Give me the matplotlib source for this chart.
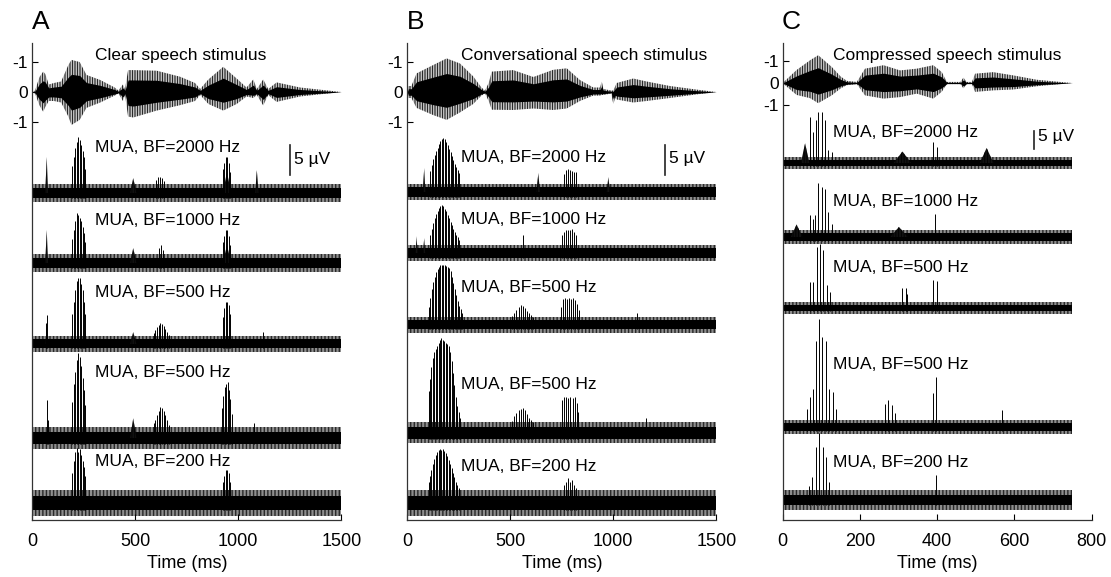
"""
Speech stimulus waveforms with MUA responses (panels A, B, C).
Envelopes / spike heights were read off the reference figure by eye.
"""
import numpy as np
import matplotlib
matplotlib.use("Agg")
import matplotlib.pyplot as plt

plt.rcParams['font.family'] = ['Liberation Sans', 'DejaVu Sans']
plt.rcParams['hatch.linewidth'] = 0.6

# ---------------- stimulus envelopes (normalised amplitude) ----------------
stim_a_t = [0, 13, 35, 53, 63, 80, 105, 140, 175, 190, 230, 263, 330, 400, 418, 440, 450,
            465, 490, 604, 717, 790, 815, 855, 927, 992, 1040, 1073, 1090, 1121, 1145, 1186,
            1300, 1461, 1500]
stim_a_up = [0, 0.05, 0.5, 0.68, 0.6, 0.25, 0.3, 0.35, 0.9, 1.07, 1.0, 0.57, 0.4, 0.15, 0.05,
             0.25, 0.1, 0.73, 0.73, 0.71, 0.51, 0.3, 0.1, 0.42, 0.84, 0.45, 0.15, 0.42, 0.1,
             0.42, 0.1, 0.32, 0.15, 0.03, 0.0]
stim_a_lo = [0, 0.05, 0.45, 0.66, 0.5, 0.3, 0.3, 0.35, 0.82, 1.1, 0.93, 0.53, 0.35, 0.12, 0.05,
             0.3, 0.1, 0.82, 0.85, 0.62, 0.44, 0.3, 0.1, 0.4, 0.62, 0.4, 0.15, 0.2, 0.1,
             0.45, 0.1, 0.33, 0.15, 0.03, 0.0]

stim_b_t = [0, 5, 20, 45, 126, 191, 256, 320, 360, 377, 395, 410, 514, 612, 708, 774, 838,
            903, 935, 944, 952, 990, 1000, 1010, 1016, 1097, 1162, 1275, 1405, 1500]
stim_b_up = [0, 0.2, 0.2, 0.62, 0.9, 1.12, 0.95, 0.52, 0.15, 0.05, 0.3, 0.68, 0.73, 0.5, 0.74,
             0.79, 0.4, 0.15, 0.15, 0.35, 0.1, 0.05, 0.05, 0.2, 0.3, 0.45, 0.35, 0.2, 0.08, 0]
stim_b_lo = [0, 0.2, 0.2, 0.53, 0.77, 0.93, 0.68, 0.4, 0.12, 0.05, 0.3, 0.59, 0.6, 0.55, 0.6,
             0.55, 0.3, 0.12, 0.12, 0.1, 0.1, 0.05, 0.4, 0.2, 0.25, 0.35, 0.3, 0.2, 0.08, 0]

stim_c_t = [0, 6, 36, 71, 92, 127, 150, 166, 192, 213, 261, 304, 347, 390, 412, 425, 460,
            468, 476, 490, 498, 545, 597, 658, 718, 750]
stim_c_up = [0, 0.1, 0.6, 1.05, 1.28, 0.74, 0.3, 0.1, 0.05, 0.66, 0.82, 0.58, 0.66, 0.82, 0.5,
             0.05, 0.05, 0.25, 0.05, 0.05, 0.43, 0.5, 0.35, 0.15, 0.05, 0]
stim_c_lo = [0, 0.1, 0.55, 0.7, 0.93, 0.57, 0.25, 0.1, 0.05, 0.57, 0.72, 0.65, 0.49, 0.72, 0.4,
             0.05, 0.05, 0.25, 0.05, 0.05, 0.41, 0.34, 0.3, 0.15, 0.05, 0]

# ---------------- MUA traces: spike times (ms) / heights (uV), bumps (t, h, width) -------------
mua_names = ["MUA, BF=2000 Hz", "MUA, BF=1000 Hz", "MUA, BF=500 Hz",
             "MUA, BF=500 Hz", "MUA, BF=200 Hz"]

# panel A - clear speech
a1_t = [195, 202, 209, 216, 223, 230, 237, 244, 251, 258, 600, 610, 620, 630, 640,
        925, 932, 939, 946, 953, 960]
a1_h = [4.5, 6, 7.5, 8.5, 9.3, 8.8, 8, 7, 6, 4, 2.2, 2.6, 2.7, 2.5, 2.0,
        4, 5, 6, 6, 5, 3.5]
a1_bumps = [(70, 6.0, 14), (490, 2.5, 30), (945, 3.5, 40), (1090, 3.8, 16)]

a2_t = [195, 202, 209, 216, 223, 230, 237, 244, 251, 258, 615, 625, 635,
        925, 932, 939, 946, 953, 960]
a2_h = [4, 5.5, 7, 8.3, 8, 7.5, 7, 6, 5, 3.5, 2.5, 3.0, 2.2,
        3.5, 4.5, 5.5, 5.5, 4.5, 3]
a2_bumps = [(70, 5.5, 14), (490, 2.5, 30), (945, 3.0, 40)]

a3_t = [65, 72, 195, 202, 209, 216, 223, 230, 237, 244, 251, 258,
        590, 598, 606, 614, 622, 630, 638, 646, 654, 662,
        925, 932, 939, 946, 953, 960, 1120]
a3_h = [3.5, 4.8, 5, 7, 9, 10.5, 11, 11, 10, 9, 7, 5,
        1.8, 2.3, 2.8, 3.2, 3.5, 3.3, 3, 2.5, 2, 1.5,
        4.5, 6, 7, 7, 6.5, 5, 2]
a3_bumps = [(70, 3.0, 12), (490, 2.0, 30)]

a4_t = [70, 78, 195, 202, 209, 216, 223, 230, 237, 244, 251, 258,
        590, 598, 606, 614, 622, 630, 638, 646, 654, 662,
        920, 927, 934, 941, 948, 955, 962, 969, 1075]
a4_h = [6.3, 3, 6, 9, 11, 13, 14.2, 13.5, 12, 10, 8, 5.5,
        2.5, 3, 3.8, 4.5, 5.2, 5, 4.5, 3.8, 3, 2.2,
        5, 7, 8.5, 9, 9.3, 8, 6.5, 4, 2.5]
a4_bumps = [(490, 3.3, 30)]

a5_t = [195, 202, 209, 216, 223, 230, 237, 244, 251, 258,
        925, 932, 939, 946, 953, 960]
a5_h = [5, 7, 8.5, 9.2, 8.5, 9, 8, 7, 6, 4.5,
        3.5, 4.5, 5.5, 5.5, 5, 3.5]
a5_bumps = []

# panel B - conversational speech
b1_t = [112, 119, 126, 133, 140, 147, 154, 161, 168, 175, 182, 189, 196, 203, 210, 217,
        224, 231, 238, 245, 252, 760, 770, 780, 790, 800, 810, 820]
b1_h = [3.5, 4.5, 5.5, 6.2, 6.8, 7.4, 8, 8.5, 8.8, 9, 8.8, 8.4, 7.8, 7.2, 6.6, 6,
        5.3, 4.7, 4.2, 3.7, 3.2, 3, 3.6, 3.8, 3.7, 3.5, 3.4, 3.3]
b1_bumps = [(82, 4.0, 12), (636, 3.2, 16), (976, 2.5, 16)]

b2_t = [112, 119, 126, 133, 140, 147, 154, 161, 168, 175, 182, 189, 196, 203, 210, 217,
        224, 231, 238, 245, 252, 563, 750, 760, 770, 780, 790, 800, 810, 820]
b2_h = [3, 4, 5, 5.8, 6.5, 7, 7.5, 7.9, 8, 7.8, 7.4, 7, 6.4, 5.8, 5.2, 4.6,
        4, 3.5, 3, 2.6, 2.2, 3, 3, 3.5, 3.8, 3.9, 3.8, 4, 3.5, 3]
b2_bumps = [(45, 2.8, 10), (82, 2.5, 10)]

b3_t = [105, 112, 119, 126, 133, 140, 147, 154, 161, 168, 175, 182, 189, 196, 203, 210,
        217, 224, 231, 238, 245, 252, 259, 266,
        510, 520, 530, 540, 550, 560, 570, 580, 590, 600, 610,
        745, 755, 765, 775, 785, 795, 805, 815, 825, 835, 1113]
b3_h = [3, 4.5, 6, 7.2, 8, 8.8, 9.3, 9.7, 10, 10, 10, 10, 9.8, 9.7, 9.5, 9,
        8, 7, 6, 5, 4, 3.2, 2.6, 2,
        1.5, 2, 2.5, 3, 3.3, 3.2, 2.8, 2.4, 2, 1.7, 1.4,
        3, 4.3, 4.5, 4.4, 4.5, 4.3, 4.5, 4.2, 3.5, 2.5, 2]
b3_bumps = []

b4_t = [103, 110, 117, 124, 131, 138, 145, 152, 159, 166, 173, 180, 187, 194, 201, 208,
        215, 222, 229, 236, 243, 250, 257,
        510, 520, 530, 540, 550, 560, 570, 580, 590, 600, 610,
        752, 762, 772, 782, 792, 802, 812, 822, 830, 1161]
b4_h = [7, 9, 11, 12.5, 13.5, 14, 14.5, 15, 15.5, 15.8, 15.5, 15.3, 15, 14.8, 14.5, 13.5,
        12, 10, 8, 6, 4.5, 3.5, 2.5,
        2, 2.8, 3.3, 3.8, 4, 4.2, 3.8, 3.2, 2.5, 2.2, 1.8,
        5.5, 6, 6, 5.8, 6, 5.8, 6, 5, 3.5, 2.5]
b4_bumps = []

b5_t = [103, 110, 117, 124, 131, 138, 145, 152, 159, 166, 173, 180, 187, 194, 201, 208,
        215, 222, 229, 236, 243, 250, 760, 770, 780, 790, 800, 810, 820]
b5_h = [3.5, 4.5, 5.5, 6.5, 7.3, 8, 8.5, 8.8, 9, 8.8, 9, 8.7, 8.3, 7.8, 7.2, 6.5,
        5.8, 5, 4.3, 3.5, 3, 2.5, 3, 3.5, 4.2, 3.5, 3.8, 3, 2.5]
b5_bumps = []

# panel C - compressed speech
c1_t = [71, 79, 85, 92, 101, 110, 118, 127, 390, 399]
c1_h = [12.8, 8.6, 12, 14.2, 14.2, 12, 3.6, 3, 5.8, 4.5]
c1_bumps = [(58, 5.5, 22), (310, 3.2, 45), (528, 4.2, 35)]

c2_t = [71, 79, 84, 92, 101, 110, 118, 127, 394]
c2_h = [6, 5, 6, 15, 13.9, 13.3, 7, 3.5, 6.4]
c2_bumps = [(36, 3.5, 30), (301, 2.8, 45)]

c3_t = [71, 79, 88, 97, 105, 114, 122, 310, 318, 323, 390, 399]
c3_h = [7.2, 7.2, 17, 17.8, 16, 6.4, 4.5, 5.5, 5.5, 4, 7.8, 7.5]
c3_bumps = []

c4_t = [64, 71, 79, 86, 94, 103, 112, 120, 129, 138, 265, 273, 282, 290, 388, 397, 568]
c4_h = [5, 8.3, 10.5, 24, 30, 25, 24, 10.5, 9.7, 5, 6.4, 7.5, 6.1, 4, 9.4, 13.9, 4.7]
c4_bumps = []

c5_t = [68, 75, 86, 94, 104, 112, 120, 397]
c5_h = [4, 6.4, 14.7, 18.6, 14.7, 11.9, 5, 7]
c5_bumps = []

# ---------------- layout (y in pixel rows from the top of the figure) ----------------
W, H = 1111, 577
ax_w = 309 / W
ax_b = 57 / H
ax_h = 477 / H

panels = [
    dict(letter="A", left=32.3, tmax=1500, tend=1500, xticks=[0, 500, 1000, 1500],
         stim=(stim_a_t, stim_a_up, stim_a_lo), stim_base=92, stim_scale=30,
         stim_label="Clear speech stimulus", label_t=304, uv=6.0,
         bases=[193, 263, 344, 438, 503], label_y=[148, 221, 293, 373, 462],
         inner=[0.8, 0.8, 0.75, 1.0, 1.2], outer=[1.5, 1.5, 1.35, 1.9, 2.2],
         spikes=[(a1_t, a1_h, a1_bumps), (a2_t, a2_h, a2_bumps), (a3_t, a3_h, a3_bumps),
                 (a4_t, a4_h, a4_bumps), (a5_t, a5_h, a5_bumps)],
         bar_t=1251, bar_top=145, bar_text_y=160),
    dict(letter="B", left=407.3, tmax=1500, tend=1500, xticks=[0, 500, 1000, 1500],
         stim=(stim_b_t, stim_b_up, stim_b_lo), stim_base=92, stim_scale=30,
         stim_label="Conversational speech stimulus", label_t=262, uv=6.0,
         bases=[192, 253, 325, 433, 503], label_y=[158, 220, 288, 385, 467],
         inner=[0.8, 0.8, 0.75, 1.0, 1.2], outer=[1.4, 1.4, 1.3, 1.75, 2.2],
         spikes=[(b1_t, b1_h, b1_bumps), (b2_t, b2_h, b2_bumps), (b3_t, b3_h, b3_bumps),
                 (b4_t, b4_h, b4_bumps), (b5_t, b5_h, b5_bumps)],
         bar_t=1251, bar_top=145, bar_text_y=159),
    dict(letter="C", left=782.7, tmax=800, tend=750, xticks=[0, 200, 400, 600, 800],
         stim=(stim_c_t, stim_c_up, stim_c_lo), stim_base=83, stim_scale=21.7,
         stim_label="Compressed speech stimulus", label_t=130, uv=3.6,
         bases=[163, 237, 308, 427, 500], label_y=[133, 202, 268, 365, 463],
         inner=[0.9, 1.0, 0.9, 1.0, 1.4], outer=[1.7, 1.9, 1.7, 1.9, 2.8],
         spikes=[(c1_t, c1_h, c1_bumps), (c2_t, c2_h, c2_bumps), (c3_t, c3_h, c3_bumps),
                 (c4_t, c4_h, c4_bumps), (c5_t, c5_h, c5_bumps)],
         bar_t=651, bar_top=131, bar_text_y=137),
]

fig = plt.figure(figsize=(W / 100, H / 100), dpi=100)

for p in panels:
    ax = fig.add_axes([p["left"] / W, ax_b, ax_w, ax_h])
    ax.set_xlim(0, p["tmax"])
    ax.set_ylim(520, 43)

    # stimulus waveform: striated outer envelope, dense black core
    st, up, lo = (np.asarray(v, dtype=float) for v in p["stim"])
    sb, ss = p["stim_base"], p["stim_scale"]
    ax.fill_between(st, sb - up * ss, sb + lo * ss, facecolor="none",
                    edgecolor="black", hatch="||||||||||", lw=0)
    ax.fill_between(st, sb - up * ss * 0.55, sb + lo * ss * 0.55, color="black", lw=0)
    ax.text(p["label_t"], 56, p["stim_label"], fontsize=12.5, va="center", ha="left")

    s = p["uv"]
    for base, inner, outer, (t, h, bumps), name, ly in zip(
            p["bases"], p["inner"], p["outer"], p["spikes"], mua_names, p["label_y"]):
        # noisy baseline: hatched fringe round a solid core
        ax.fill_between([0, p["tend"]], base - outer * s, base + outer * s,
                        facecolor="none", edgecolor="black", hatch="||||||||||||", lw=0)
        ax.fill_between([0, p["tend"]], base - inner * s, base + inner * s,
                        color="black", lw=0)
        for bt, bh, bw in bumps:
            ax.fill([bt - bw / 2, bt, bt + bw / 2],
                    [base, base - bh * s, base],
                    facecolor="#111111", edgecolor="black", hatch="||||||", lw=0)
        if t:
            ax.vlines(t, base + inner * s, base - np.asarray(h) * s, color="black", lw=0.7)
        ax.text(p["label_t"], ly, name, fontsize=12.5, va="center", ha="left")

    # 5 uV scale bar
    ax.plot([p["bar_t"], p["bar_t"]], [p["bar_top"], p["bar_top"] + 5 * s],
            color="#222222", lw=1.2)
    ax.text(p["bar_t"] + 0.012 * p["tmax"], p["bar_text_y"], "5 µV",
            fontsize=12.5, va="center", ha="left")

    # axes styling
    for side in ("top", "right"):
        ax.spines[side].set_visible(False)
    for side in ("left", "bottom"):
        ax.spines[side].set_color("#333333")
        ax.spines[side].set_linewidth(0.9)
    ax.set_xticks(p["xticks"])
    ax.tick_params(axis="x", direction="in", length=4, width=0.8, pad=9, labelsize=13)
    ax.set_yticks([sb - ss, sb, sb + ss])
    ax.set_yticklabels(["-1", "0", "-1"])
    ax.tick_params(axis="y", direction="in", length=4, width=0.8, pad=3, labelsize=12.5)
    ax.set_xlabel("Time (ms)", fontsize=13, labelpad=4)

    fig.text((p["left"] + 8) / W, 1 - 22 / H, p["letter"], fontsize=19,
             ha="center", va="center")

fig.savefig("out.png", dpi=100)
